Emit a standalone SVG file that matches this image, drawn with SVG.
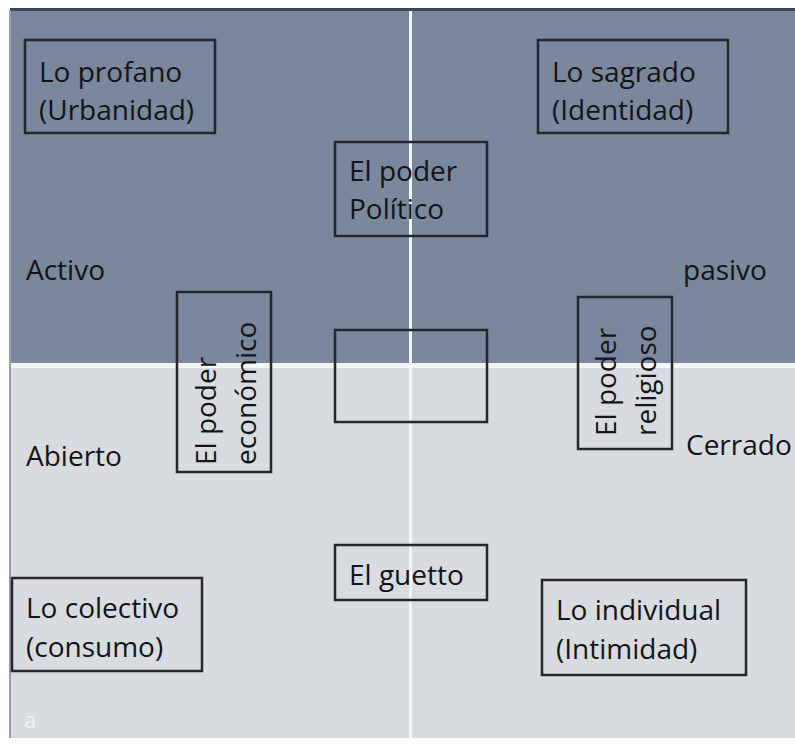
<svg xmlns="http://www.w3.org/2000/svg" width="795" height="744" viewBox="0 0 795 744">
<style>
.t{font-family:"Open Sans","Noto Sans","DejaVu Sans",sans-serif;font-size:28px;fill:#141416}
.b{fill:none;stroke:#24272d;stroke-width:2.5}
</style>
<rect x="0" y="0" width="795" height="744" fill="#ffffff"/>
<g id="background">
<rect x="10" y="10" width="785" height="354" fill="#7b879d"/>
<rect x="10" y="367" width="785" height="371" fill="#d8dbe0"/>
<rect x="10" y="363" width="785" height="5" fill="#f4f5f7"/>
<rect x="409" y="10" width="3" height="728" fill="#f4f5f7"/>
<rect x="10" y="8" width="785" height="3" fill="#3d4759"/>
<rect x="9" y="10" width="2" height="728" fill="#9a9ea6"/>
<text x="24" y="728" class="t" style="fill:#eef0f3;font-size:22px">a</text>
</g>
<g id="profano"><rect class="b" x="25" y="40" width="190" height="93"/><text class="t" x="39" y="82">Lo profano</text><text class="t" x="39" y="120">(Urbanidad)</text></g>
<g id="sagrado"><rect class="b" x="538" y="40" width="190" height="93"/><text class="t" x="552" y="82">Lo sagrado</text><text class="t" x="552" y="120">(Identidad)</text></g>
<g id="politico"><rect class="b" x="335" y="142" width="152" height="94"/><text class="t" x="349" y="181">El poder</text><text class="t" x="349" y="219">Político</text></g>
<g id="vacio"><rect class="b" x="335" y="330" width="152" height="92"/></g>
<g id="economico"><rect class="b" x="177" y="292" width="94" height="180"/><text class="t" transform="translate(216,465) rotate(-90)">El poder</text><text class="t" transform="translate(256,465) rotate(-90)">económico</text></g>
<g id="religioso"><rect class="b" x="578" y="297" width="94" height="152"/><text class="t" transform="translate(616,436) rotate(-90)">El poder</text><text class="t" transform="translate(656,436) rotate(-90)">religioso</text></g>
<g id="guetto"><rect class="b" x="335" y="545" width="152" height="55"/><text class="t" x="349" y="585">El guetto</text></g>
<g id="colectivo"><rect class="b" x="12" y="578" width="190" height="93"/><text class="t" x="26" y="618">Lo colectivo</text><text class="t" x="26" y="657">(consumo)</text></g>
<g id="individual"><rect class="b" x="542" y="580" width="204" height="95"/><text class="t" x="556" y="620">Lo individual</text><text class="t" x="556" y="659">(Intimidad)</text></g>
<g id="labels">
<text class="t" x="26" y="280">Activo</text>
<text class="t" x="683" y="280">pasivo</text>
<text class="t" x="26" y="466">Abierto</text>
<text class="t" x="686" y="455">Cerrado</text>
</g>
<g id="connectors"></g>
</svg>
